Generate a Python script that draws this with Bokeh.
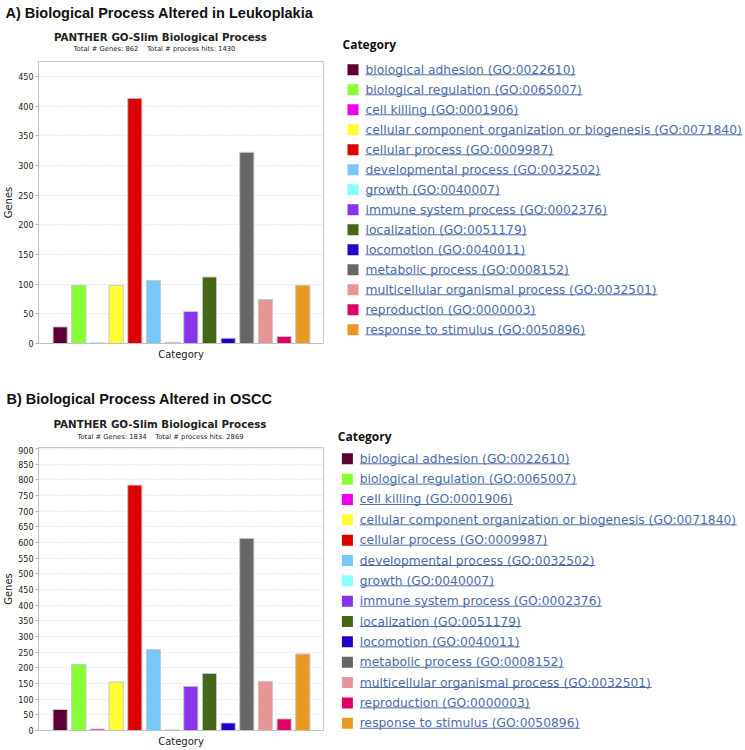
from bokeh.plotting import figure
from bokeh.models import Range1d, ColumnDataSource, SingleIntervalTicker, FixedTicker
from bokeh.layouts import column, row
from bokeh.embed import file_html
from bokeh.resources import INLINE
from bokeh.core.properties import value

# ---------------- data ----------------
categories = [
    "biological adhesion", "biological regulation", "cell killing",
    "cellular component organization or biogenesis", "cellular process",
    "developmental process", "growth", "immune system process", "localization",
    "locomotion", "metabolic process", "multicellular organismal process",
    "reproduction", "response to stimulus",
]
go_ids = [
    "GO:0022610", "GO:0065007", "GO:0001906", "GO:0071840", "GO:0009987",
    "GO:0032502", "GO:0040007", "GO:0002376", "GO:0051179", "GO:0040011",
    "GO:0008152", "GO:0032501", "GO:0000003", "GO:0050896",
]
colors = [
    "#5c0033", "#88ff33", "#ee00ee", "#ffff33", "#dd0000", "#77c8f8", "#88ffff",
    "#8833ee", "#446616", "#2200cc", "#666666", "#e89598", "#dd0066", "#e89a22",
]
leuko_genes = [28, 98, 1, 98, 413, 106, 2, 54, 112, 9, 322, 74, 12, 98]
oscc_genes = [67, 211, 5, 155, 783, 258, 2, 141, 182, 24, 613, 157, 37, 244]

title_a = "A) Biological Process Altered in Leukoplakia"
title_b = "B) Biological Process Altered in OSCC"
panther = "PANTHER GO-Slim Biological Process"
totals_a = "Total # Genes: 862\u00a0\u00a0\u00a0 Total # process hits: 1430"
totals_b = "Total # Genes: 1834\u00a0\u00a0\u00a0 Total # process hits: 2869"
ymax_a, ymax_b = 475, 903

LINK = "#4d6ca8"
W = 745
BAR_W = 338
LEG_W = W - BAR_W

# DejaVu Sans advance widths (units per em 2048) for underline lengths
ADV = dict(a=1255, b=1300, c=1126, d=1300, e=1260, f=721, g=1300, h=1298, i=569,
           j=569, k=1186, l=569, m=1995, n=1298, o=1253, p=1300, q=1300, r=842,
           s=1067, t=803, u=1298, v=1212, w=1675, x=1212, y=1212, z=1075)
ADV.update({" ": 651, "(": 799, ")": 799, ":": 690, "G": 1595, "O": 1612})
for d in "0123456789":
    ADV[d] = 1303


def text_width(s, size):
    return sum(ADV.get(ch, 1200) for ch in s) / 2048.0 * size


def canvas(w, h, top=0, bottom=0):
    # data coordinates == pixel coordinates of the figure (y downwards)
    p = figure(width=w, height=h, x_range=Range1d(0, w), y_range=Range1d(h - bottom, top),
               x_axis_type=None, y_axis_type=None, toolbar_location=None,
               output_backend="svg", min_border_left=0, min_border_right=0,
               min_border_top=top, min_border_bottom=bottom)
    p.outline_line_color = None
    p.background_fill_color = "white"
    p.border_fill_color = "white"
    return p


def header(h, heading, hx, hy, sub_x, sub_y, tot_x, tot_y, totals, cat_x, cat_y):
    p = canvas(W, h)
    p.text(x=[hx], y=[hy], text=[heading], text_font=value("Liberation Sans"),
           text_font_size=value("14.5px"), text_font_style="bold",
           text_baseline="middle", text_align="left", text_color="#111111")
    p.text(x=[sub_x], y=[sub_y], text=[panther], text_font=value("DejaVu Sans"),
           text_font_size=value("10.3px"), text_font_style="bold",
           text_baseline="middle", text_align="center", text_color="#222222")
    p.text(x=[tot_x], y=[tot_y], text=[totals], text_font=value("DejaVu Sans"),
           text_font_size=value("6.8px"), text_baseline="middle",
           text_align="center", text_color="#222222")
    p.text(x=[cat_x], y=[cat_y], text=["Category"], text_font=value("Open Sans"),
           text_font_size=value("12px"), text_font_style="bold",
           text_baseline="middle", text_align="left", text_color="#111111")
    return p


def bars(vals, ymax, h, top, bottom):
    n = len(vals)
    p = figure(width=BAR_W, height=h, x_range=Range1d(-1.16, n - 1 + 1.11),
               y_range=Range1d(0, ymax), toolbar_location=None, output_backend="svg",
               min_border_left=36, min_border_right=BAR_W - 323, min_border_top=top,
               min_border_bottom=bottom)
    src = ColumnDataSource(dict(x=list(range(n)), top=vals, color=colors))
    p.vbar(x="x", top="top", width=0.76, source=src, fill_color="color",
           line_color="#c8c8c8", line_width=1)
    p.xgrid.visible = False
    p.ygrid.grid_line_color = "#d4d4d4"
    p.ygrid.grid_line_dash = "1 2"
    p.yaxis.ticker = SingleIntervalTicker(interval=50)
    p.yaxis.axis_label = "Genes"
    p.yaxis.major_label_text_font = "DejaVu Sans"
    p.yaxis.major_label_text_font_size = "8px"
    p.yaxis.major_label_text_color = "#222222"
    p.yaxis.major_label_standoff = 1
    p.yaxis.major_tick_out = 3
    p.yaxis.major_tick_in = 0
    p.yaxis.major_tick_line_color = "#b8b8b8"
    p.yaxis.minor_tick_line_color = None
    p.yaxis.axis_line_color = "#c0c0c0"
    p.xaxis.ticker = FixedTicker(ticks=[])
    p.xaxis.axis_label = "Category"
    p.xaxis.major_tick_line_color = None
    p.xaxis.minor_tick_line_color = None
    p.xaxis.axis_line_color = "#c0c0c0"
    for ax in (p.xaxis, p.yaxis):
        ax.axis_label_text_font = "DejaVu Sans"
        ax.axis_label_text_font_size = "10px"
        ax.axis_label_text_font_style = "normal"
        ax.axis_label_text_color = "#222222"
        ax.axis_label_standoff = 1
    p.xaxis.axis_label_standoff = 5
    p.outline_line_color = "#c8c8c8"
    p.background_fill_color = "white"
    p.border_fill_color = "white"
    return p


def legend(h, top, bottom, sq_x, txt_x, row0, step):
    p = canvas(LEG_W, h, top, bottom)
    labels = [f"{c} ({g})" for c, g in zip(categories, go_ids)]
    ys = [row0 + i * step for i in range(len(labels))]
    p.rect(x=[sq_x] * len(ys), y=ys, width=11, height=11, fill_color=colors,
           line_color=None)
    p.text(x=[txt_x] * len(ys), y=ys, text=labels,
           text_font=value("DejaVu Sans"), text_font_size=value("12.3px"),
           text_baseline="middle", text_align="left", text_color=LINK)
    p.segment(x0=[txt_x] * len(ys), y0=[y + 5 for y in ys],
              x1=[txt_x + text_width(s, 12.3) for s in labels],
              y1=[y + 5 for y in ys], line_color=LINK, line_width=1)
    return p


HA, HB = 60, 71
BA, BB = 315, 303
head_a = header(HA, title_a, 5, 12, 160, 36, 154, 48, totals_a, 342, 44)
bar_a = bars(leuko_genes, ymax_a, BA, 1, 32)
leg_a = legend(BA, 1, 32, 14.5, 27, 69.3 - HA, 20)

y0b = HA + BA + HB
head_b = header(HB, title_b, 6, 398 - HA - BA, 159.5, 423.3 - HA - BA, 160,
                436 - HA - BA, totals_b, 337.3, 436 - HA - BA)
bar_b = bars(oscc_genes, ymax_b, BB, 1, 19)
leg_b = legend(BB, 1, 19, 8.9, 21.3, 458.3 - y0b, 20.34)

layout = column(head_a, row(bar_a, leg_a, spacing=0), head_b,
                row(bar_b, leg_b, spacing=0), spacing=0)

open("out.html", "w").write(file_html(layout, INLINE))
